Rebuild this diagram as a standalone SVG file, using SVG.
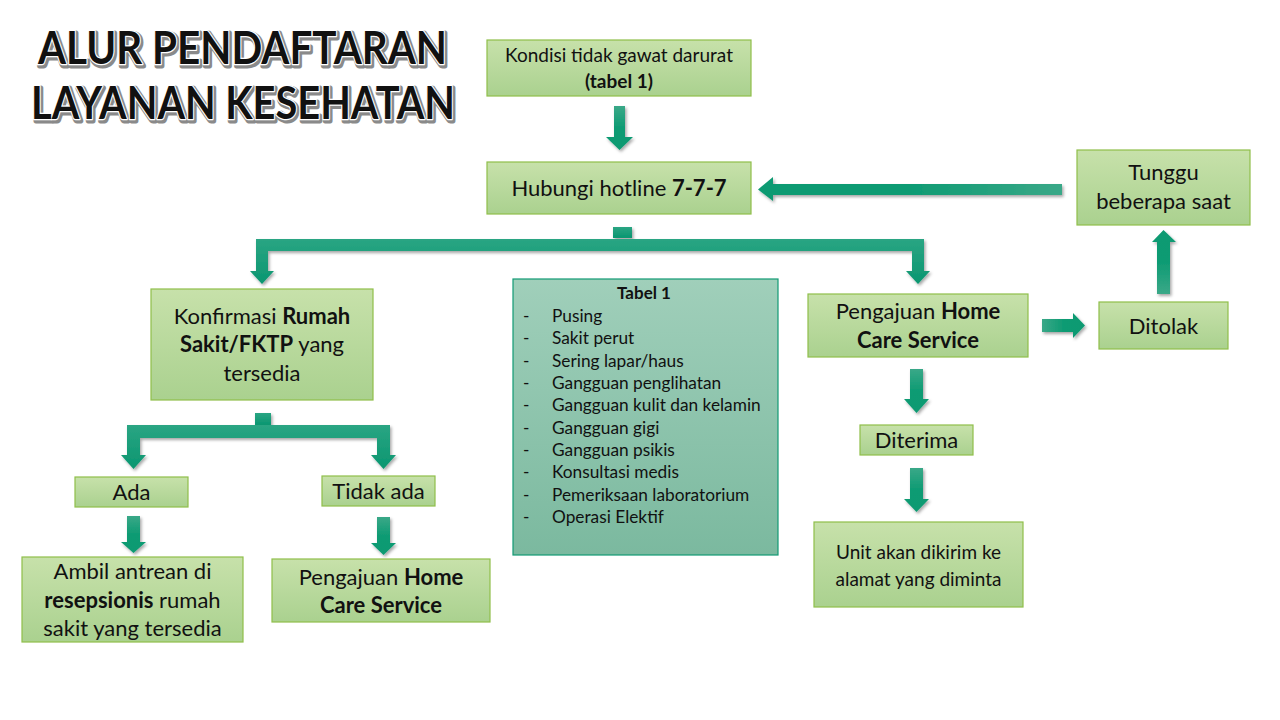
<svg xmlns="http://www.w3.org/2000/svg" width="1280" height="720" viewBox="0 0 1280 720">
<defs>
<linearGradient id="gBox" x1="0" y1="0" x2="0" y2="1"><stop offset="0" stop-color="#c7e1aa"/><stop offset="1" stop-color="#aad18f"/></linearGradient>
<linearGradient id="gTab" x1="0" y1="0" x2="0" y2="1"><stop offset="0" stop-color="#a0cfba"/><stop offset="1" stop-color="#7bb99f"/></linearGradient>
<linearGradient id="gDown" x1="0" y1="0" x2="0" y2="1"><stop offset="0" stop-color="#3aa888"/><stop offset="0.5" stop-color="#0e9b73"/><stop offset="1" stop-color="#0e9a72"/></linearGradient>
<linearGradient id="gUp" x1="0" y1="1" x2="0" y2="0"><stop offset="0" stop-color="#3aa888"/><stop offset="0.5" stop-color="#0e9b73"/><stop offset="1" stop-color="#0e9a72"/></linearGradient>
<linearGradient id="gLeft" x1="1" y1="0" x2="0" y2="0"><stop offset="0" stop-color="#3aa888"/><stop offset="0.5" stop-color="#0e9b73"/><stop offset="1" stop-color="#0e9a72"/></linearGradient>
<linearGradient id="gRight" x1="0" y1="0" x2="1" y2="0"><stop offset="0" stop-color="#3aa888"/><stop offset="0.5" stop-color="#0e9b73"/><stop offset="1" stop-color="#0e9a72"/></linearGradient>
<linearGradient id="gBar" x1="0" y1="0" x2="0" y2="1"><stop offset="0" stop-color="#2aa583"/><stop offset="1" stop-color="#0a9670"/></linearGradient>
<filter id="sh" x="-20%" y="-20%" width="140%" height="140%"><feDropShadow dx="1.5" dy="2" stdDeviation="1.5" flood-color="#000" flood-opacity="0.35"/></filter>
</defs>
<style>
.box{fill:url(#gBox);stroke:#8fbf4a;stroke-width:1.2}
.tab{fill:url(#gTab);stroke:#129a74;stroke-width:1.2}
text{font-family:Lato,"Liberation Sans",sans-serif;fill:#111}
.t20{font-size:22px;text-anchor:middle}
.t17{font-size:19px;text-anchor:middle}
.b{font-weight:bold}
.li{font-size:17.3px}
.title{font-family:Lato,"Liberation Sans",sans-serif;font-weight:bold;font-size:46px}
</style>
<rect width="1280" height="720" fill="#fff"/>

<g id="title">
<text class="title" x="38" y="64" textLength="409" lengthAdjust="spacingAndGlyphs" fill="#8a8a8a" stroke="#8a8a8a" stroke-width="5" stroke-linejoin="round" transform="translate(1.5,1.5)">ALUR PENDAFTARAN</text>
<text class="title" x="38" y="64" textLength="409" lengthAdjust="spacingAndGlyphs" fill="#000" stroke="#fff" stroke-width="2.5" stroke-linejoin="round" paint-order="stroke">ALUR PENDAFTARAN</text>
<text class="title" x="31" y="119" textLength="424" lengthAdjust="spacingAndGlyphs" fill="#8a8a8a" stroke="#8a8a8a" stroke-width="5" stroke-linejoin="round" transform="translate(1.5,1.5)">LAYANAN KESEHATAN</text>
<text class="title" x="31" y="119" textLength="424" lengthAdjust="spacingAndGlyphs" fill="#000" stroke="#fff" stroke-width="2.5" stroke-linejoin="round" paint-order="stroke">LAYANAN KESEHATAN</text>
</g>

<g id="connectors" filter="url(#sh)">
<polygon fill="url(#gDown)" points="614,106 625,106 625,137 633,137 619.5,150 606,137 614,137"/>
<polygon fill="url(#gLeft)" points="1062,184 773,184 773,177 758,189.5 773,201 773,195 1062,195"/>
<rect fill="url(#gBar)" x="613" y="227" width="19" height="11"/>
<path fill="url(#gBar)" d="M256,239 H924 V271 H930 L918,284 L906,271 H912 V251 H268 V271 H274 L262,284 L250,271 H256 Z"/>
<rect fill="url(#gBar)" x="255" y="413" width="16" height="12"/>
<path fill="url(#gBar)" d="M127,425 H390 V455 H396 L383.5,469 L371,455 H377 V438 H140 V455 H146 L133.5,469 L121,455 H127 Z"/>
<polygon fill="url(#gDown)" points="127,516 140,516 140,542 146,542 133.5,553 121,542 127,542"/>
<polygon fill="url(#gDown)" points="377,517 390,517 390,543 396,543 383.5,555 371,543 377,543"/>
<polygon fill="url(#gDown)" points="910,369 923,369 923,399 929,399 916.5,413 904,399 910,399"/>
<polygon fill="url(#gDown)" points="910,468 923,468 923,499 929,499 916.5,512 904,499 910,499"/>
<polygon fill="url(#gRight)" points="1042,319 1073,319 1073,313 1085,325.5 1073,338 1073,332 1042,332"/>
<polygon fill="url(#gUp)" points="1157,294 1157,242 1152,242 1163.5,230 1176,242 1170,242 1170,294"/>
</g>

<g id="n-kondisi">
<rect class="box" x="487" y="40" width="264" height="56"/>
<text class="t17" x="619" y="62">Kondisi tidak gawat darurat</text>
<text class="t17 b" x="619" y="88">(tabel 1)</text>
</g>

<g id="n-hotline">
<rect class="box" x="487" y="162" width="264" height="52"/>
<text class="t20" x="619" y="196">Hubungi hotline <tspan class="b">7-7-7</tspan></text>
</g>

<g id="n-tunggu">
<rect class="box" x="1077" y="150" width="173" height="75"/>
<text class="t20" x="1163.5" y="180">Tunggu</text>
<text class="t20" x="1163.5" y="209">beberapa saat</text>
</g>

<g id="n-konfirmasi">
<rect class="box" x="151" y="289" width="222" height="111"/>
<text class="t20" x="262" y="324">Konfirmasi <tspan class="b">Rumah</tspan></text>
<text class="t20" x="262" y="352"><tspan class="b">Sakit/FKTP</tspan> yang</text>
<text class="t20" x="262" y="381">tersedia</text>
</g>

<g id="n-tabel">
<rect class="tab" x="513" y="279" width="265" height="276"/>
<text x="644" y="299" text-anchor="middle" font-size="17" font-weight="bold">Tabel 1</text>
<g class="li">
<text x="523" y="322">-</text><text x="552" y="322">Pusing</text>
<text x="523" y="344">-</text><text x="552" y="344">Sakit perut</text>
<text x="523" y="367">-</text><text x="552" y="367">Sering lapar/haus</text>
<text x="523" y="389">-</text><text x="552" y="389">Gangguan penglihatan</text>
<text x="523" y="411">-</text><text x="552" y="411">Gangguan kulit dan kelamin</text>
<text x="523" y="434">-</text><text x="552" y="434">Gangguan gigi</text>
<text x="523" y="456">-</text><text x="552" y="456">Gangguan psikis</text>
<text x="523" y="478">-</text><text x="552" y="478">Konsultasi medis</text>
<text x="523" y="501">-</text><text x="552" y="501">Pemeriksaan laboratorium</text>
<text x="523" y="523">-</text><text x="552" y="523">Operasi Elektif</text>
</g>
</g>

<g id="n-pengajuan-kanan">
<rect class="box" x="808" y="294" width="220" height="63"/>
<text class="t20" x="918" y="319">Pengajuan <tspan class="b">Home</tspan></text>
<text class="t20 b" x="918" y="348">Care Service</text>
</g>

<g id="n-ditolak">
<rect class="box" x="1099" y="302" width="129" height="47"/>
<text class="t20" x="1163.5" y="334">Ditolak</text>
</g>

<g id="n-diterima">
<rect class="box" x="860" y="425" width="113" height="30"/>
<text class="t20" x="916.5" y="448">Diterima</text>
</g>

<g id="n-unit">
<rect class="box" x="814" y="522" width="209" height="85"/>
<text class="t17" x="918.5" y="559">Unit akan dikirim ke</text>
<text class="t17" x="918.5" y="586">alamat yang diminta</text>
</g>

<g id="n-ada">
<rect class="box" x="75" y="477" width="113" height="30"/>
<text class="t20" x="131.5" y="500">Ada</text>
</g>

<g id="n-tidak-ada">
<rect class="box" x="322" y="476" width="113" height="30"/>
<text class="t20" x="378.5" y="499">Tidak ada</text>
</g>

<g id="n-ambil">
<rect class="box" x="22" y="557" width="221" height="85"/>
<text class="t20" x="132.5" y="579">Ambil antrean di</text>
<text class="t20" x="132.5" y="608"><tspan class="b">resepsionis</tspan> rumah</text>
<text class="t20" x="132.5" y="636">sakit yang tersedia</text>
</g>

<g id="n-pengajuan-kiri">
<rect class="box" x="272" y="559" width="218" height="63"/>
<text class="t20" x="381" y="585">Pengajuan <tspan class="b">Home</tspan></text>
<text class="t20 b" x="381" y="613">Care Service</text>
</g>
</svg>
